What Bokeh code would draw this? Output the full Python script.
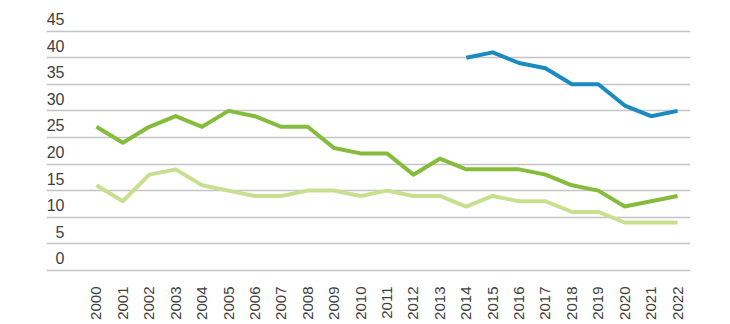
import math
from bokeh.plotting import figure
from bokeh.models import FixedTicker, Range1d
from bokeh.core.properties import value
from bokeh.embed import file_html
from bokeh.resources import INLINE

years = list(range(2000, 2023))
dark_green = [27, 24, 27, 29, 27, 30, 29, 27, 27, 23, 22, 22, 18, 21, 19, 19, 19, 18, 16, 15, 12, 13, 14]
light_green = [16, 13, 18, 19, 16, 15, 14, 14, 15, 15, 14, 15, 14, 14, 12, 14, 13, 13, 11, 11, 9, 9, 9]
blue_years = list(range(2014, 2023))
blue = [40, 41, 39, 38, 35, 35, 31, 29, 30]
y_ticks = [0, 5, 10, 15, 20, 25, 30, 35, 40, 45]
y_labels = [str(v) for v in y_ticks]

p = figure(width=730, height=324, output_backend="svg", toolbar_location=None,
           x_range=Range1d(1998.11, 2022.49), y_range=Range1d(-0.4, 49.25),
           min_border_left=46, min_border_right=40, min_border_top=8, min_border_bottom=52,
           y_axis_location=None)
p.outline_line_color = None
p.background_fill_color = "white"
p.border_fill_color = "white"

p.xgrid.visible = False
p.ygrid.ticker = FixedTicker(ticks=y_ticks)
p.ygrid.grid_line_color = "#c4c4c4"
p.ygrid.grid_line_width = 1.5

ax = p.xaxis[0]
ax.ticker = FixedTicker(ticks=years)
ax.major_label_orientation = math.pi / 2
ax.major_label_text_font = "Liberation Sans"
ax.major_label_text_font_size = "15px"
ax.major_label_text_color = "#404040"
ax.major_label_standoff = 8
ax.axis_line_color = None
ax.major_tick_line_color = None
ax.minor_tick_line_color = None

p.text(x=[1998.79] * len(y_ticks), y=y_ticks, text=y_labels,
       text_align="right", text_baseline="alphabetic", y_offset=-12,
       text_font=value("Liberation Sans"), text_font_size="16px", text_color="#404040")

p.line(years, light_green, line_color="#c8df90", line_width=4, line_join="round")
p.line(years, dark_green, line_color="#86bc3c", line_width=4, line_join="round")
p.line(blue_years, blue, line_color="#1a8ac0", line_width=4, line_join="round")

open("out.html", "w").write(file_html(p, INLINE))
